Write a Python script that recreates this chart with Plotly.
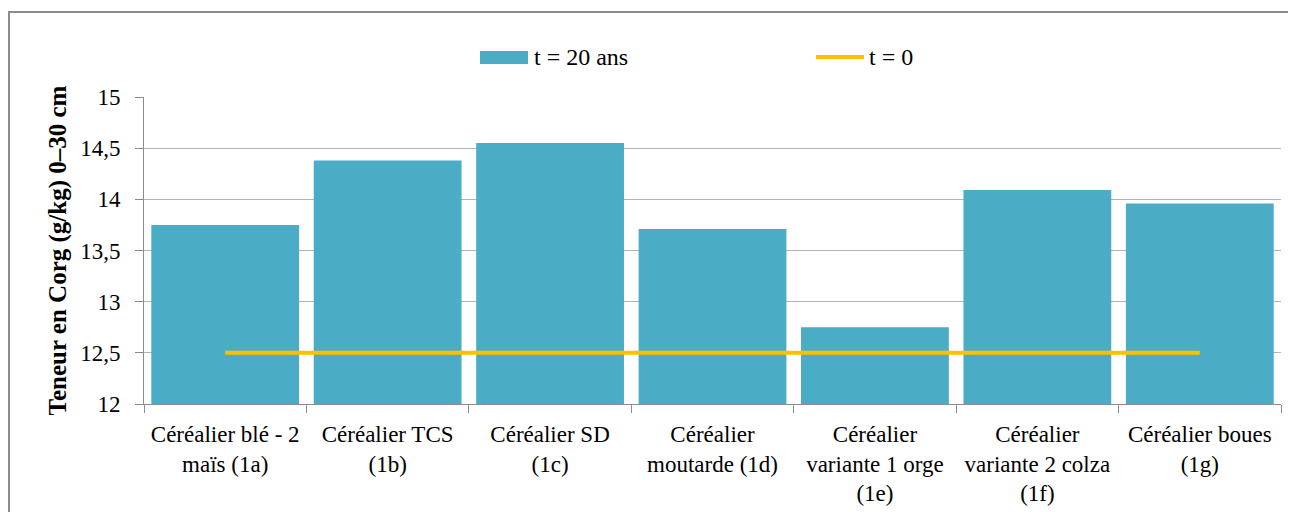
import plotly.graph_objects as go

categories = [
    "Céréalier blé - 2<br>maïs (1a)",
    "Céréalier TCS<br>(1b)",
    "Céréalier SD<br>(1c)",
    "Céréalier<br>moutarde (1d)",
    "Céréalier<br>variante 1 orge<br>(1e)",
    "Céréalier<br>variante 2 colza<br>(1f)",
    "Céréalier boues<br>(1g)",
]
t20_values = [13.75, 14.38, 14.55, 13.71, 12.75, 14.09, 13.96]
t0_values = [12.5, 12.5, 12.5, 12.5, 12.5, 12.5, 12.5]
y_ticks = [12, 12.5, 13, 13.5, 14, 14.5, 15]
series_names = ["t = 20 ans", "t = 0"]
bar_color = "#4BACC6"
line_color = "#FFC000"

FONT = "Liberation Serif, 'Times New Roman', serif"

fig = go.Figure()
fig.add_trace(go.Bar(
    x=categories, y=t20_values, name=series_names[0],
    marker=dict(color=bar_color, line=dict(width=0)),
))
fig.add_trace(go.Scatter(
    x=categories, y=t0_values, name=series_names[1], mode="lines",
    line=dict(color=line_color, width=4),
))

# page has an 8px body margin: figure pixel = screen pixel - 8
OFF = 8
W, H = 1296 - OFF, 512 - OFF
L, T = 144 - OFF, 97 - OFF
R = W - (1281 - OFF)
B = H - (404 - OFF)
pw = W - L - R
ph = H - T - B


def px(x):
    return (x - OFF - L) / pw


def py(y):
    return (H - B - (y - OFF)) / ph


shapes = [
    dict(type="rect", xref="paper", yref="paper",
         x0=px(9), x1=px(1295), y0=py(540), y1=py(12),
         line=dict(color="#8c8c8c", width=2), fillcolor="rgba(0,0,0,0)", layer="below"),
    # legend swatches
    dict(type="rect", xref="paper", yref="paper",
         x0=px(480), x1=px(528), y0=py(64), y1=py(51),
         line=dict(width=0), fillcolor=bar_color),
    dict(type="line", xref="paper", yref="paper",
         x0=px(816), x1=px(864), y0=py(57), y1=py(57),
         line=dict(color=line_color, width=4)),
]
annotations = [
    dict(text=series_names[0], xref="paper", yref="paper", x=px(532), y=py(57),
         xanchor="left", yanchor="middle", showarrow=False,
         font=dict(family=FONT, size=24, color="black")),
    dict(text=series_names[1], xref="paper", yref="paper", x=px(867), y=py(57),
         xanchor="left", yanchor="middle", showarrow=False,
         font=dict(family=FONT, size=24, color="black")),
]

fig.update_layout(
    width=W, height=H,
    margin=dict(l=L, r=R, t=T, b=B, pad=0, autoexpand=False),
    paper_bgcolor="white", plot_bgcolor="white",
    font=dict(family=FONT, size=23, color="black"),
    separators=", ",
    bargap=0.09,
    showlegend=False,
    xaxis=dict(
        automargin=False,
        ticks="outside", tickson="boundaries", ticklen=8, tickcolor="#8c8c8c",
        showline=True, linecolor="#8c8c8c", linewidth=1, ticklabelstandoff=9,
        showgrid=False, tickfont=dict(family=FONT, size=23, color="black"),
    ),
    yaxis=dict(
        automargin=False,
        range=[12, 15], tickvals=y_ticks, ticks="outside", ticklen=8,
        tickcolor="#8c8c8c", showline=True, linecolor="#8c8c8c", linewidth=1,
        ticklabelstandoff=10,
        showgrid=True, gridcolor="#b3b3b3", gridwidth=1, zeroline=False,
        tickfont=dict(family=FONT, size=23, color="black"),
        title=dict(text="<b>Teneur en Corg (g/kg) 0–30 cm</b>",
                   font=dict(family=FONT, size=25, color="black"), standoff=6),
    ),
    shapes=shapes,
    annotations=annotations,
)

fig.write_html("out.html")
